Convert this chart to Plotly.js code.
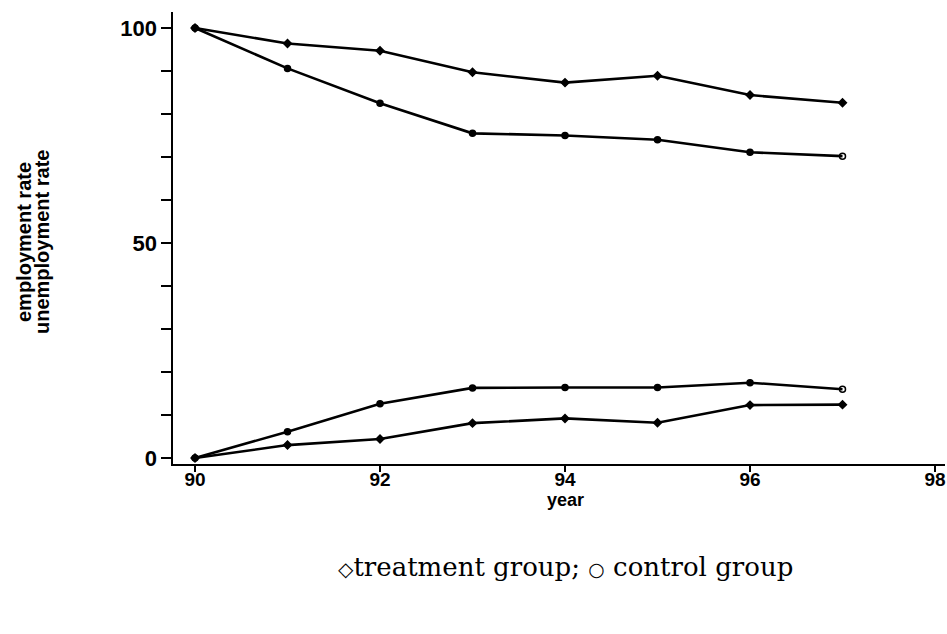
<!DOCTYPE html>
<html>
<head>
<meta charset="utf-8">
<script src="https://cdn.plot.ly/plotly-3.0.1.min.js"></script>
<style>
  html, body { margin: 0; padding: 0; background: #fff; }
  #chart { width: 947px; height: 634px; }
</style>
</head>
<body>
<div id="chart"></div>
<script>
// Employment and unemployment rates, treatment vs control group, 1990-1997
const years = [90, 91, 92, 93, 94, 95, 96, 97];
const empTreatment = [100, 96.4, 94.7, 89.7, 87.3, 88.9, 84.4, 82.6];
const empControl = [100, 90.6, 82.5, 75.5, 75.0, 74.0, 71.1, 70.2];
const unempControl = [0, 6.1, 12.6, 16.3, 16.4, 16.4, 17.5, 16.0];
const unempTreatment = [0, 3.0, 4.4, 8.1, 9.2, 8.2, 12.3, 12.4];

const xTicks = [90, 92, 94, 96, 98];
const yTicks = [0, 10, 20, 30, 40, 50, 60, 70, 80, 90, 100];
const yTickText = ['0', '', '', '', '', '50', '', '', '', '', '100'];

const W = 947, H = 634;
const M = { l: 173, r: 2, t: 12, b: 170 };

function series(y, symbol) {
  return {
    x: years, y: y, type: 'scatter', mode: 'lines+markers',
    line: { color: '#000', width: 2.6 },
    marker: { symbol: symbol, size: 6, color: '#000',
              line: { color: '#000', width: 1.5 } },
    hoverinfo: 'x+y', showlegend: false
  };
}

const data = [
  series(empTreatment, 'diamond'),
  series(empControl, 'circle'),
  series(unempControl, 'circle'),
  series(unempTreatment, 'diamond')
];
// last control points are drawn open
data[1].marker.symbol = empControl.map((v, i) => i === years.length - 1 ? 'circle-open' : 'circle');
data[2].marker.symbol = unempControl.map((v, i) => i === years.length - 1 ? 'circle-open' : 'circle');

const sans = 'Liberation Sans, Arial, sans-serif';
const plotW = W - M.l - M.r, plotH = H - M.t - M.b;
const px = v => (v - M.l) / plotW;
const py = v => (H - M.b - v) / plotH;
const titleFont = { family: sans, size: 20, color: '#000', weight: 'bold' };

function label(text, x, y, font, angle) {
  return {
    xref: 'paper', yref: 'paper', x: px(x), y: py(y),
    text: text, textangle: angle || 0,
    showarrow: false, xanchor: 'center', yanchor: 'middle', font: font
  };
}

const layout = {
  width: W, height: H,
  margin: M,
  paper_bgcolor: '#fff', plot_bgcolor: '#fff',
  showlegend: false,
  xaxis: {
    range: [89.762, 98.108],
    tickvals: xTicks, ticktext: xTicks.map(String),
    ticks: 'outside', ticklen: 6, tickwidth: 1.3, tickcolor: '#000',
    ticklabelstandoff: -9,
    showline: true, linecolor: '#000', linewidth: 2,
    showgrid: false, zeroline: false,
    tickfont: { family: sans, size: 19, color: '#000', weight: 'bold' }
  },
  yaxis: {
    range: [-1.40, 103.72],
    tickvals: yTicks, ticktext: yTickText,
    ticks: 'outside', ticklen: 10, tickwidth: 1.3, tickcolor: '#000',
    showline: true, linecolor: '#000', linewidth: 1.6,
    showgrid: false, zeroline: false,
    tickfont: { family: sans, size: 22, color: '#000', weight: 'bold' }
  },
  annotations: [
    label('employment rate', 24, 242, titleFont, -90),
    label('unemployment rate', 42, 242, titleFont, -90),
    label('year', 565, 500, { family: sans, size: 18, color: '#000', weight: 'bold' }),
    label('<span style="font-size:20px">\u25C7</span>treatment group; ' +
          '<span style="font-size:19px">\u25CB</span> control group',
          565, 567, { family: 'DejaVu Serif, serif', size: 26, color: '#000' })
  ]
};

Plotly.newPlot('chart', data, layout, { displayModeBar: false, staticPlot: true });
</script>
</body>
</html>
